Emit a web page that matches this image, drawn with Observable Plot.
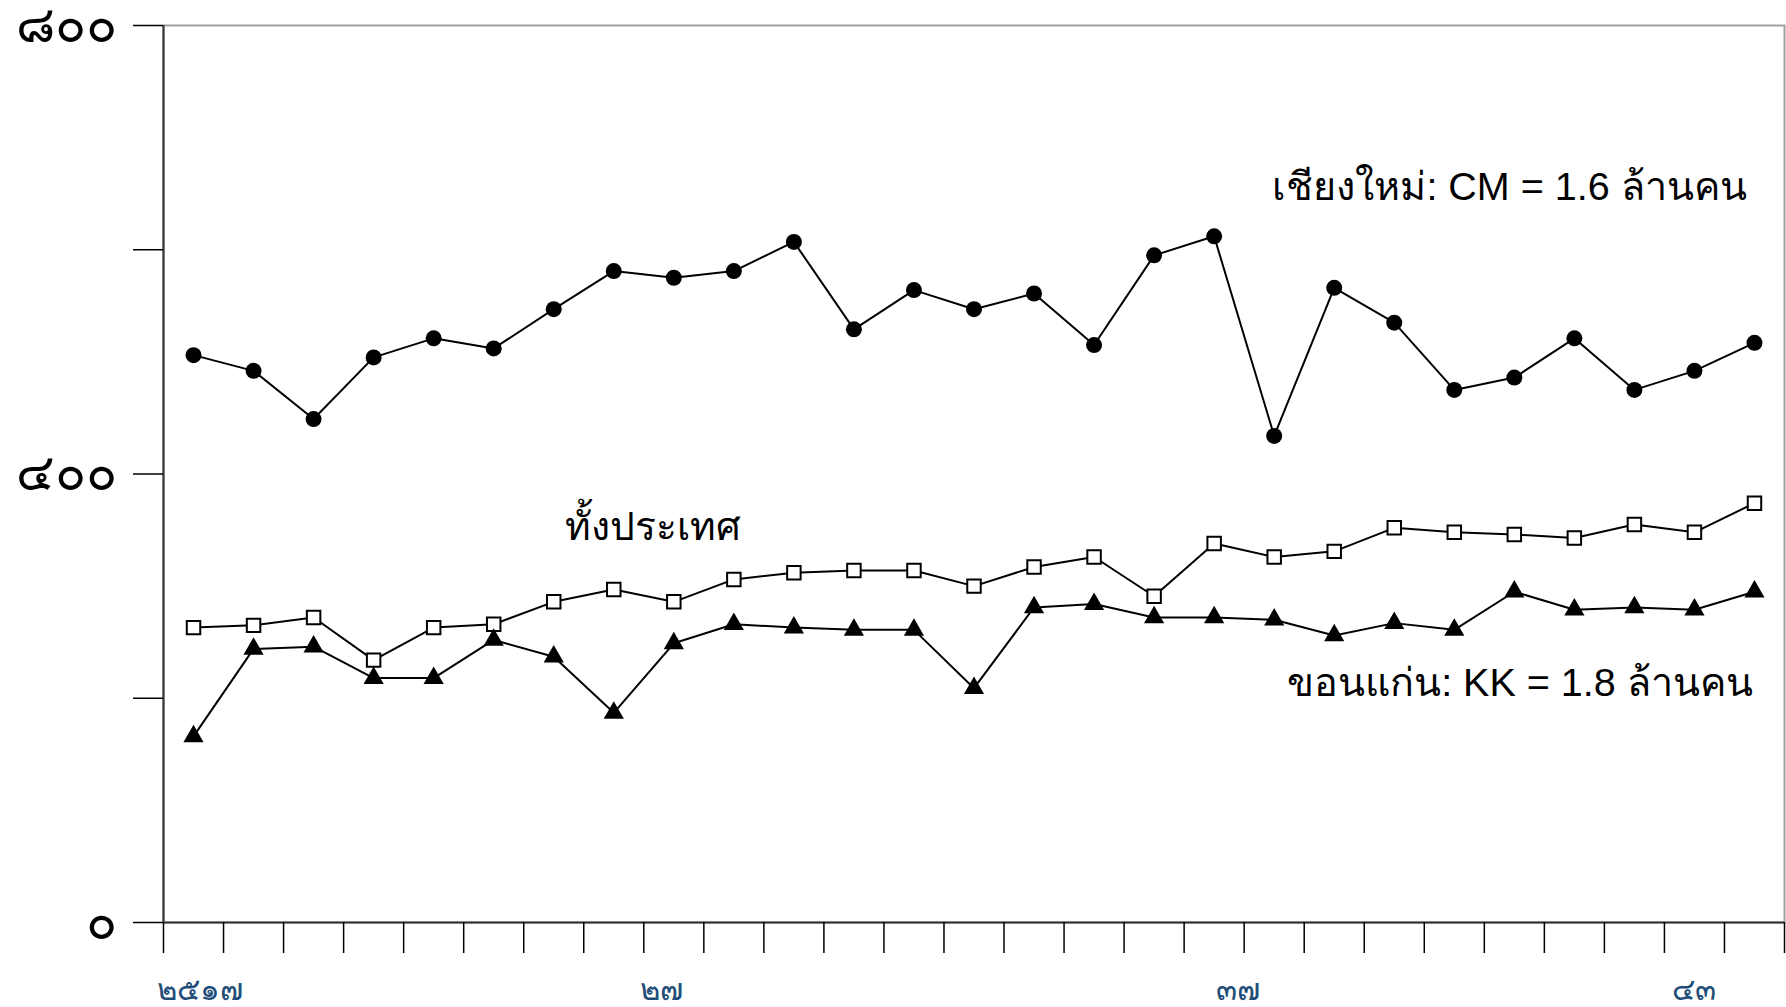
<!DOCTYPE html>
<html>
<head>
<meta charset="utf-8">
<script src="https://cdn.jsdelivr.net/npm/d3@7"></script>
<script src="https://cdn.jsdelivr.net/npm/@observablehq/plot@0.6"></script>
<style>
  html, body { margin: 0; padding: 0; background: #fff; }
  #chart svg { display: block; }
</style>
</head>
<body>
<div id="chart"></div>
<script>
// Years (Buddhist Era)
const years = [2517, 2518, 2519, 2520, 2521, 2522, 2523, 2524, 2525, 2526, 2527, 2528, 2529, 2530,
               2531, 2532, 2533, 2534, 2535, 2536, 2537, 2538, 2539, 2540, 2541, 2542, 2543];
// Chiang Mai (filled circles)
const cmValues = [506, 492, 449, 504, 521, 512, 547, 581, 575, 581, 607, 529, 564, 547,
                  561, 515, 595, 612, 434, 566, 535, 475, 486, 521, 475, 492, 517];
// Whole country (open squares)
const nationValues = [263, 265, 272, 234, 263, 266, 286, 297, 286, 306, 312, 314, 314, 300,
                      317, 326, 291, 338, 326, 331, 352, 348, 346, 343, 355, 348, 374];
// Khon Kaen (filled triangles)
const kkValues = [166, 244, 246, 218, 218, 252, 237, 187, 249, 266, 263, 261, 261, 209,
                  281, 284, 272, 272, 270, 256, 267, 261, 295, 279, 281, 279, 295];

// Axis tick labels
const yTickValues = [0, 200, 400, 600, 800];
const yTickLabels = ["๐", "", "๔๐๐", "", "๘๐๐"];
const xTickValues = [2517.1, 2524.8, 2534.4, 2542];
const xTickLabels = ["๒๕๑๗", "๒๗", "๓๗", "๔๓"];

// Series annotations
const cmLabel = "เชียงใหม่: CM = 1.6 ล้านคน";
const nationLabel = "ทั้งประเทศ";
const kkLabel = "ขอนแก่น: KK = 1.8 ล้านคน";

const toRows = vals => years.map((year, i) => ({year, value: vals[i]}));
const cm = toRows(cmValues);
const nation = toRows(nationValues);
const kk = toRows(kkValues);

const yLabelMap = new Map(yTickValues.map((v, i) => [v, yTickLabels[i]]));
const xLabelMap = new Map(xTickValues.map((v, i) => [v, xTickLabels[i]]));
const xMin = years[0] - 0.5, xMax = years[years.length - 1] + 0.5;
const boundaries = [...years.map(y => y - 0.5), xMax];

const font = "'Liberation Sans', 'DejaVu Sans', sans-serif";

const chart = Plot.plot({
  width: 1786,
  height: 1007,
  marginLeft: 163,
  marginRight: 2,
  marginTop: 25,
  marginBottom: 85,
  style: {fontFamily: font, background: "#fff", color: "#000", overflow: "visible"},
  x: {type: "linear", domain: [xMin, xMax]},
  y: {domain: [0, 800]},
  marks: [
    Plot.frame({stroke: "#a0a0a0", strokeWidth: 2}),
    Plot.ruleX([xMin], {stroke: "#333", strokeWidth: 2}),
    Plot.ruleY([0], {stroke: "#333", strokeWidth: 2}),
    Plot.axisY({ticks: yTickValues, tickSize: 30, tickPadding: 17, label: null,
      tickFormat: d => yLabelMap.get(d), fontSize: 51, strokeWidth: 1.5}),
    Plot.axisX({ticks: boundaries, tickSize: 31, label: null, tickFormat: () => "", strokeWidth: 1.5}),
    Plot.axisX({ticks: xTickValues, tickSize: 0, tickPadding: 55, label: null,
      tickFormat: d => xLabelMap.get(d), fontSize: 31, fill: "#1f4e79"}),
    Plot.line(cm, {x: "year", y: "value", stroke: "#000", strokeWidth: 2}),
    Plot.line(nation, {x: "year", y: "value", stroke: "#000", strokeWidth: 2}),
    Plot.line(kk, {x: "year", y: "value", stroke: "#000", strokeWidth: 2}),
    Plot.dot(cm, {x: "year", y: "value", r: 8, fill: "#000", symbol: "circle"}),
    Plot.dot(nation, {x: "year", y: "value", r: 7.6, fill: "#fff", stroke: "#000", strokeWidth: 2, symbol: "square"}),
    Plot.dot(kk, {x: "year", y: "value", r: 7.5, fill: "#000", symbol: "triangle"}),
    Plot.text([cmLabel], {x: 2542.87, y: 656, text: d => d, textAnchor: "end", fontSize: 39.5, fill: "#000"}),
    Plot.text([nationLabel], {x: 2523.18, y: 352, text: d => d, textAnchor: "start", fontSize: 39, fill: "#000"}),
    Plot.text([kkLabel], {x: 2542.97, y: 213, text: d => d, textAnchor: "end", fontSize: 39.5, fill: "#000"})
  ]
});
document.getElementById("chart").appendChild(chart);
</script>
</body>
</html>
